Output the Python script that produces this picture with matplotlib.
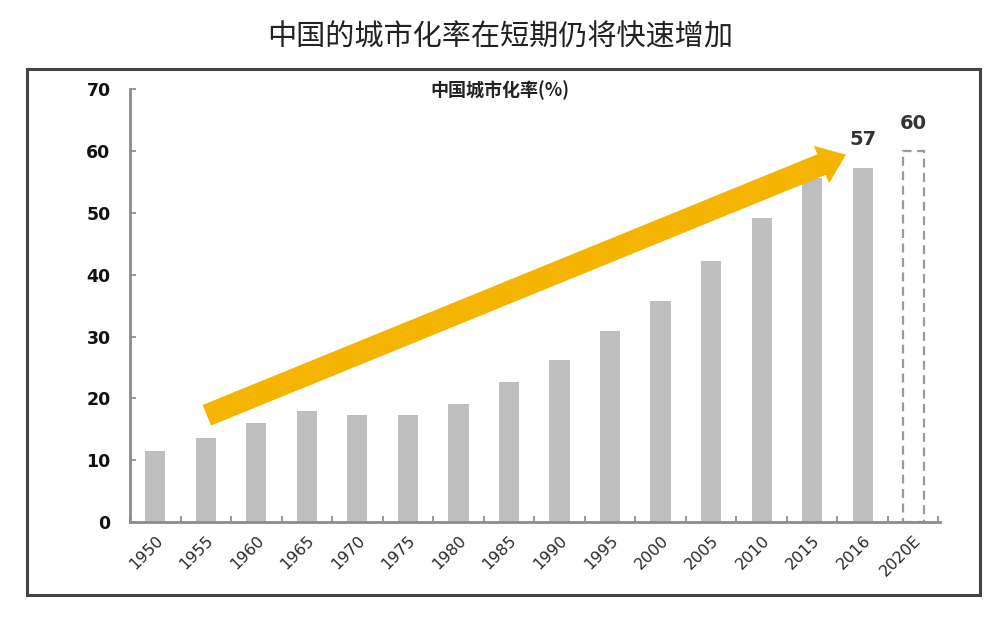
import matplotlib
matplotlib.use("Agg")
import matplotlib.pyplot as plt
from matplotlib.patches import Rectangle
from matplotlib.transforms import ScaledTranslation
import numpy as np

plt.rcParams['font.family'] = ['Noto Sans CJK SC', 'DejaVu Sans']

years = ["1950", "1955", "1960", "1965", "1970", "1975", "1980", "1985",
         "1990", "1995", "2000", "2005", "2010", "2015", "2016", "2020E"]
rates = [11.5, 13.6, 16.0, 17.9, 17.3, 17.3, 19.1, 22.6,
         26.2, 30.9, 35.7, 42.3, 49.1, 55.7, 57.3, 60.0]
labels = {"2016": "57", "2020E": "60"}
title = "中国的城市化率在短期仍将快速增加"
subtitle = "中国城市化率(%)"
yticks = [0, 10, 20, 30, 40, 50, 60, 70]

bar_color = "#BFBFBF"
arrow_color = "#F5B400"

fig = plt.figure(figsize=(10, 6.2), dpi=100)
fig.patch.set_facecolor("white")
ax = fig.add_axes([0.130, 0.158, 0.810, 0.698])

x = np.arange(len(years))
est = [y.endswith("E") for y in years]
solid_x = [xi for xi, e in zip(x, est) if not e]
solid_v = [v for v, e in zip(rates, est) if not e]
ax.bar(solid_x, solid_v, width=0.4, color=bar_color, zorder=2)
est_x = [xi for xi, e in zip(x, est) if e]
est_v = [v for v, e in zip(rates, est) if e]
ax.bar(est_x, est_v, width=0.42, facecolor="white", edgecolor="#9A9A9A",
       linestyle=(0, (4, 2.5)), linewidth=1.6, zorder=2)

for xi, yr, v in zip(x, years, rates):
    if yr in labels:
        ax.text(xi, v + 3.0, labels[yr], ha="center", va="bottom",
                fontsize=14, fontweight="bold", color="#333333",
                family=["DejaVu Sans"])

# trend arrow
ax.annotate("", xy=(13.72, 59.6), xytext=(0.97, 17.1),
            arrowprops=dict(arrowstyle="simple,head_length=0.95,head_width=1.45,tail_width=0.8",
                            mutation_scale=20, color=arrow_color, lw=0),
            zorder=4)

ax.set_xlim(-0.45, 15.53)
ax.set_ylim(0, 70)
ax.set_yticks(yticks)
ax.set_yticklabels([str(t) for t in yticks], fontsize=12.5, fontweight="bold",
                   color="#111111", family=["DejaVu Sans"])
ax.set_xticks(x)
ax.set_xticklabels(years, rotation=45, ha="right", rotation_mode="anchor",
                   fontsize=11.5, color="#2A2A2A",
                   family=["Liberation Sans Narrow", "DejaVu Sans"])
offset = ScaledTranslation(-4 / 100, -11 / 100, fig.dpi_scale_trans)
for lbl in ax.get_xticklabels():
    lbl.set_transform(lbl.get_transform() + offset)
ax.set_xticks(np.arange(-0.5, len(years), 1.0), minor=True)
ax.tick_params(axis="x", which="major", length=0, pad=8)
ax.tick_params(axis="x", which="minor", direction="in", length=4, color="#888888", width=1.2)
ax.tick_params(axis="y", direction="in", length=4, color="#888888", width=1.2, pad=14)

for s in ["top", "right"]:
    ax.spines[s].set_visible(False)
for s in ["left", "bottom"]:
    ax.spines[s].set_color("#8C8C8C")
    ax.spines[s].set_linewidth(2)

ax.text(0.457, 0.998, subtitle, transform=ax.transAxes, ha="center", va="center",
        fontsize=13, fontweight="bold", color="#222222")

fig.text(0.5, 0.939, title, ha="center", va="center", fontsize=21, color="#222222")

frame = Rectangle((0.027, 0.04), 0.953, 0.849, transform=fig.transFigure,
                  fill=False, edgecolor="#444444", linewidth=2.2)
fig.patches.append(frame)

fig.savefig("out.png", dpi=100, facecolor="white")
